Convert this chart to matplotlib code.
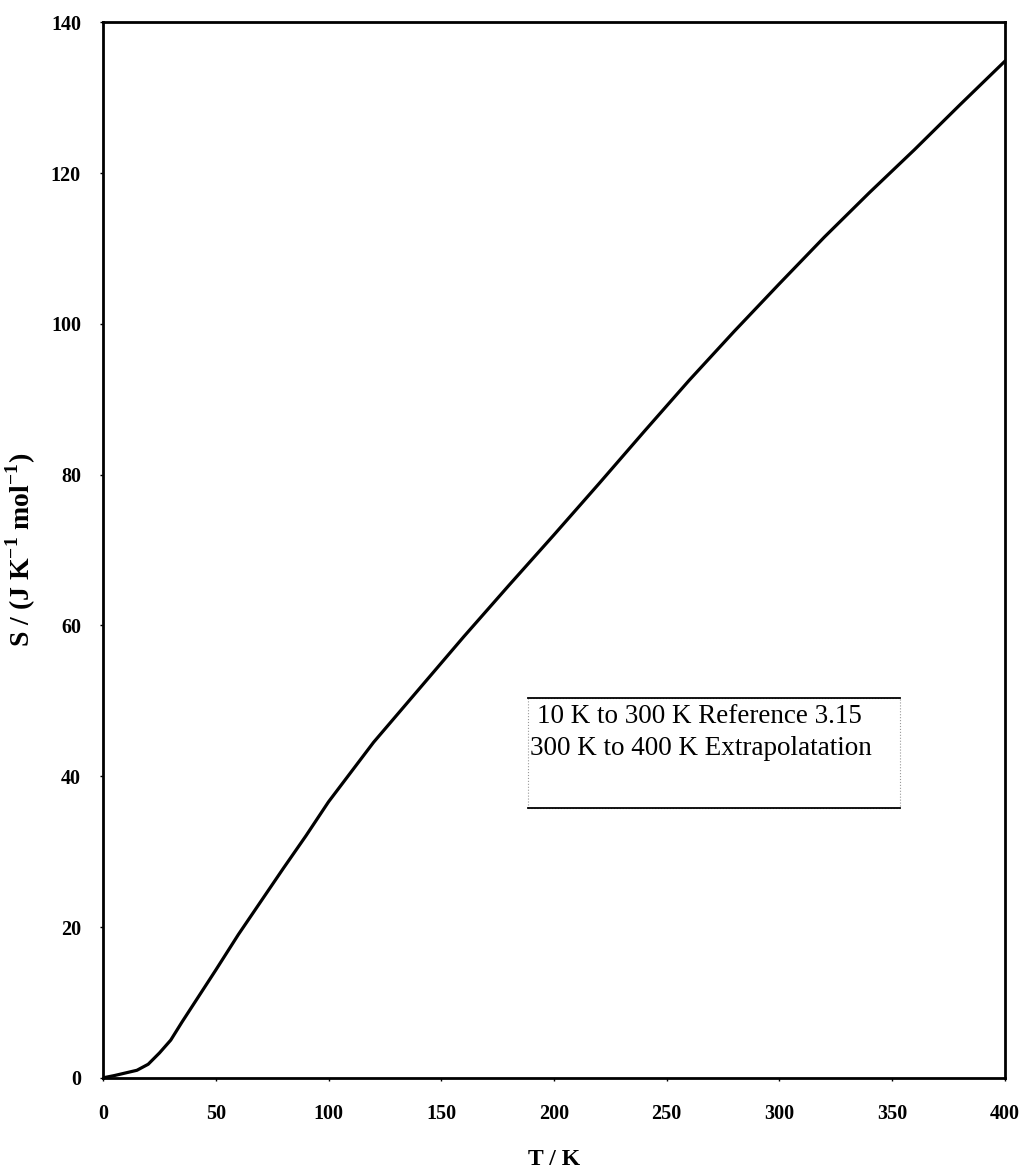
import matplotlib.pyplot as plt
from matplotlib.patches import Rectangle
from matplotlib.lines import Line2D

# Veri
T = [0, 5, 10, 15, 20, 25, 30, 35, 40, 45, 50, 60, 70, 80, 90, 100,
     120, 140, 160, 180, 200, 220, 240, 260, 280, 300, 320, 340, 360, 380, 400]
S = [0, 0.3, 0.65, 1.0, 1.8, 3.3, 5.0, 7.4, 9.7, 12.0, 14.3, 19.0, 23.4, 27.8, 32.1, 36.6,
     44.5, 51.5, 58.5, 65.3, 72.0, 78.8, 85.7, 92.5, 99.0, 105.3, 111.5, 117.4, 123.1, 129.0, 134.8]

x_ticks = [0, 50, 100, 150, 200, 250, 300, 350, 400]
y_ticks = [0, 20, 40, 60, 80, 100, 120, 140]
note_lines = ["10 K to 300 K Reference 3.15", "300 K to 400 K Extrapolatation"]

plt.rcParams['font.family'] = ['Liberation Serif', 'DejaVu Serif']
plt.rcParams['mathtext.fontset'] = 'custom'
plt.rcParams['mathtext.rm'] = 'Liberation Serif:bold'
plt.rcParams['mathtext.bf'] = 'Liberation Serif:bold'

fig = plt.figure(figsize=(10.21, 11.69), dpi=100)
ax = fig.add_axes([0.101, 0.078, 0.883, 0.903])

ax.plot(T, S, color='black', linewidth=2.3)

ax.set_xlim(0, 400)
ax.set_ylim(0, 140)
ax.set_xticks(x_ticks)
ax.set_yticks(y_ticks)
ax.tick_params(direction='out', length=2, width=1, labelsize=14.5)
ax.tick_params(axis='x', pad=17)
ax.tick_params(axis='y', pad=14)
for lab in ax.get_xticklabels() + ax.get_yticklabels():
    lab.set_fontweight('bold')
for sp in ax.spines.values():
    sp.set_linewidth(2)

ax.set_xlabel("T / K", fontsize=17, fontweight='bold', labelpad=18)
ax.set_ylabel(r"S / (J K$^{-1}$ mol$^{-1}$)", fontsize=20, fontweight='bold', labelpad=9)

# Not kutusu
x0, x1, y0, y1 = 0.471, 0.884, 0.256, 0.360
ax.add_patch(Rectangle((x0, y0), x1 - x0, y1 - y0, transform=ax.transAxes,
                       fill=False, edgecolor='#999999', linestyle=':', linewidth=0.8))
for yy in (y0, y1):
    ax.add_line(Line2D([x0, x1], [yy, yy], transform=ax.transAxes, color='black', linewidth=1.3))
ax.text(x0 + 0.010, 0.342, note_lines[0], transform=ax.transAxes, fontsize=19.5, va='center')
ax.text(x0 + 0.003, 0.312, note_lines[1], transform=ax.transAxes, fontsize=19.5, va='center')

plt.savefig("out.png", dpi=100)
